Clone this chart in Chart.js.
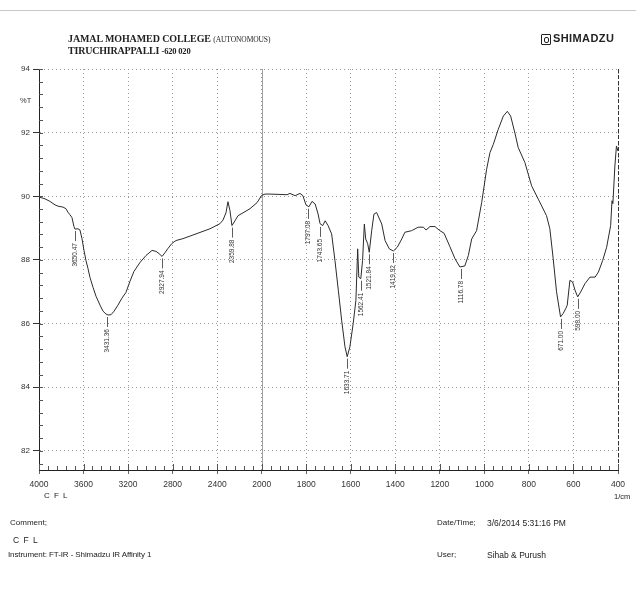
<!DOCTYPE html>
<html>
<head>
<meta charset="utf-8">
<script src="https://cdn.jsdelivr.net/npm/chart.js@4/dist/chart.umd.min.js"></script>
<style>
  html, body { margin:0; padding:0; background:#fff; }
  #wrap { position:relative; width:636px; height:608px; overflow:hidden; background:#fff; }
  canvas { position:absolute; left:0; top:0; }
  .t { position:absolute; white-space:nowrap; color:#222; font-family:"Liberation Sans", Arial, sans-serif; }
  .serif { font-family:"Liberation Serif", "DejaVu Serif", serif; font-weight:bold; }
</style>
</head>
<body>
<div id="wrap">
  <canvas id="c" width="636" height="608"></canvas>
  <div style="position:absolute;left:0;top:10px;width:636px;height:1px;background:#c8c8c8;"></div>
  <div class="t serif" style="left:68px;top:33px;font-size:10px;letter-spacing:-0.1px;">JAMAL MOHAMED COLLEGE <span style="font-size:7.5px;font-weight:normal;">(AUTONOMOUS)</span></div>
  <div class="t serif" style="left:68px;top:45px;font-size:10px;letter-spacing:-0.2px;">TIRUCHIRAPPALLI <span style="font-size:8.5px;">-620 020</span></div>
  <div class="t" style="left:541px;top:34px;width:8px;height:9px;border:1.5px solid #222;border-radius:1px;"></div>
  <div class="t" style="left:544px;top:37px;width:3px;height:4px;border:1px solid #222;border-radius:2px;"></div>
  <div class="t" style="left:553px;top:32px;font-size:11px;font-weight:bold;letter-spacing:0.4px;">SHIMADZU</div>
  <div class="t" style="left:20px;top:96px;font-size:7.5px;color:#333;">%T</div>
  <div class="t" style="left:44px;top:491px;font-size:8px;letter-spacing:1px;">C F L</div>
  <div class="t" style="left:614px;top:492px;font-size:7.5px;">1/cm</div>
  <div class="t" style="left:10px;top:518px;font-size:8px;">Comment;</div>
  <div class="t" style="left:13px;top:535px;font-size:8.5px;letter-spacing:1px;">C F L</div>
  <div class="t" style="left:8px;top:550px;font-size:8px;letter-spacing:-0.1px;">Instrument: FT-IR - Shimadzu IR Affinity 1</div>
  <div class="t" style="left:437px;top:518px;font-size:8px;">Date/Time;</div>
  <div class="t" style="left:487px;top:518px;font-size:8.5px;">3/6/2014 5:31:16 PM</div>
  <div class="t" style="left:437px;top:550px;font-size:8px;">User;</div>
  <div class="t" style="left:487px;top:550px;font-size:8.5px;">Sihab &amp; Purush</div>
</div>
<script>
// ---- data ----
const wavenumbers = [4000,3946,3901,3856,3829,3784,3758,3740,3722,3704,3686,3677,3650,3632,3614,3596,3578,3560,3542,3515,3488,3452,3425,3398,3380,3353,3326,3291,3255,3219,3183,3147,3093,3039,2985,2949,2922,2895,2868,2842,2806,2770,2707,2581,2464,2375,2348,2321,2303,2285,2267,2240,2213,2168,2105,2042,2000,1985,1963,1886,1873,1850,1828,1815,1801,1788,1774,1760,1747,1738,1726,1715,1702,1686,1671,1656,1641,1626,1616,1604,1589,1577,1569,1564,1555,1547,1539,1533,1524,1517,1506,1496,1484,1461,1446,1427,1409,1391,1371,1357,1327,1297,1274,1262,1244,1222,1200,1181,1155,1132,1110,1088,1072,1057,1035,1012,990,975,960,938,915,897,882,863,848,818,788,758,721,706,691,676,658,646,634,628,616,604,593,581,568,548,526,503,488,469,451,433,427,423,414,407,400];
const transmittance = [89.98,89.92,89.84,89.73,89.69,89.66,89.61,89.50,89.42,89.33,89.05,88.97,88.98,88.94,88.67,88.30,87.98,87.73,87.45,87.14,86.86,86.58,86.39,86.30,86.27,86.28,86.39,86.58,86.80,86.98,87.33,87.64,87.92,88.14,88.30,88.27,88.20,88.11,88.23,88.36,88.52,88.61,88.67,88.83,88.98,89.14,89.25,89.48,89.83,89.55,89.08,89.23,89.39,89.48,89.61,89.80,90.03,90.07,90.07,90.05,90.09,90.02,90.09,90.02,89.73,89.67,89.84,89.76,89.45,89.14,89.08,89.23,89.08,88.82,87.98,87.05,86.11,85.27,84.96,85.27,86.01,86.73,88.35,87.46,87.41,87.98,89.13,88.66,88.51,88.24,88.92,89.44,89.49,89.13,88.61,88.35,88.28,88.40,88.66,88.87,88.92,89.03,89.03,88.94,89.05,89.05,88.92,88.84,88.42,88.04,87.78,87.81,88.14,88.66,88.92,89.81,90.85,91.37,91.63,92.10,92.52,92.67,92.52,91.99,91.53,91.06,90.33,89.91,89.39,88.98,88.04,87.00,86.21,86.32,86.48,86.58,87.36,87.31,87.05,86.84,86.99,87.26,87.46,87.46,87.62,87.98,88.40,89.08,89.86,89.77,90.95,91.58,91.42];

const xTickLabels = [4000,3600,3200,2800,2400,2000,1800,1600,1400,1200,1000,800,600,400];
const yTickValues = [82,84,86,88,90,92,94];

const peakText = ['3650.47','3431.36','2927.94','2359.88','1797.08','1743.65','1633.71','1562.41','1521.84','1419.92','1116.78','671.00','598.00'];
const peakWn   = [3677,3389,2895,2267,1792,1736,1616,1553,1517,1409,1104,658,581];
const peakT    = [88.97,86.27,88.11,89.08,89.67,89.10,84.96,87.41,88.24,88.28,87.78,86.21,86.84];

// Shimadzu IR axis: 400 cm-1 per division above 2000, 200 cm-1 per division below
function xPos(wn) { return wn >= 2000 ? (4000 - wn) / 400 : 5 + (2000 - wn) / 200; }

const points = wavenumbers.map((w, i) => ({ x: xPos(w), y: transmittance[i] }));

const decor = {
  id: 'decor',
  beforeDatasetsDraw(chart) {
    const { ctx, chartArea: a, scales: { x, y } } = chart;
    ctx.save();
    ctx.strokeStyle = '#a0a0a0'; ctx.lineWidth = 1;
    const p2000 = Math.round(x.getPixelForValue(5)) + 0.5;
    ctx.beginPath(); ctx.moveTo(p2000, a.top); ctx.lineTo(p2000, a.bottom); ctx.stroke();
    ctx.strokeStyle = '#333'; ctx.setLineDash([4, 2]);
    const pr = Math.round(x.getPixelForValue(13)) + 0.5;
    ctx.beginPath(); ctx.moveTo(pr, a.top); ctx.lineTo(pr, a.bottom); ctx.stroke();
    ctx.setLineDash([]);
    ctx.strokeStyle = '#555';
    for (let v = 81.6; v < 94.01; v += 0.4) {
      const py = Math.round(y.getPixelForValue(v)) + 0.5;
      ctx.beginPath(); ctx.moveTo(a.left, py); ctx.lineTo(a.left + 4, py); ctx.stroke();
    }
    for (let u = 0; u <= 13.001; u += 0.2) {
      const px = Math.round(x.getPixelForValue(u)) + 0.5;
      const major = Math.abs(u - Math.round(u)) < 0.01;
      ctx.beginPath(); ctx.moveTo(px, a.bottom); ctx.lineTo(px, a.bottom - (major ? 6 : 4)); ctx.stroke();
    }
    ctx.restore();
  },
  afterDatasetsDraw(chart) {
    const { ctx, scales: { x, y } } = chart;
    ctx.save();
    ctx.strokeStyle = '#333'; ctx.fillStyle = '#333'; ctx.lineWidth = 0.8;
    ctx.font = '6.5px "Liberation Sans", Arial, sans-serif';
    peakText.forEach((txt, i) => {
      const px = Math.round(x.getPixelForValue(xPos(peakWn[i]))) + 0.5;
      const py = y.getPixelForValue(peakT[i]);
      ctx.beginPath(); ctx.moveTo(px, py + 2); ctx.lineTo(px, py + 12); ctx.stroke();
      ctx.save();
      ctx.translate(px, py + 14);
      ctx.rotate(-Math.PI / 2);
      ctx.textAlign = 'right'; ctx.textBaseline = 'middle';
      ctx.fillText(txt, 0, 0);
      ctx.restore();
    });
    ctx.restore();
  }
};

new Chart(document.getElementById('c'), {
  type: 'line',
  data: { datasets: [{ data: points, borderColor: '#2b2b2b', borderWidth: 1, pointRadius: 0, tension: 0, fill: false }] },
  options: {
    responsive: false, animation: false, devicePixelRatio: 1,
    layout: { padding: { top: 69, right: 18, left: 0, bottom: 0 } },
    plugins: { legend: { display: false }, tooltip: { enabled: false } },
    scales: {
      x: {
        type: 'linear', min: 0, max: 13,
        afterFit(s) { s.height = 138; },
        afterBuildTicks(s) { s.ticks = xTickLabels.map((_, i) => ({ value: i })); },
        ticks: { autoSkip: false, maxRotation: 0, padding: 6, color: '#333',
                 font: { family: '"Liberation Sans", Arial, sans-serif', size: 8.5 },
                 callback: (v) => xTickLabels[v] },
        grid: { color: '#9a9a9a', lineWidth: 1, drawTicks: true, tickLength: 4, tickColor: '#666' },
        border: { display: true, color: '#222', width: 1, dash: [1, 3] }
      },
      y: {
        type: 'linear', min: 81.4, max: 94,
        afterFit(s) { s.width = 39; },
        afterBuildTicks(s) { s.ticks = yTickValues.map(v => ({ value: v })); },
        ticks: { padding: 3, color: '#333',
                 font: { family: '"Liberation Sans", Arial, sans-serif', size: 8 } },
        grid: { color: '#9a9a9a', lineWidth: 1, drawTicks: true, tickLength: 6, tickColor: '#333' },
        border: { display: true, color: '#222', width: 1, dash: [1, 3] }
      }
    }
  },
  plugins: [decor]
});
</script>
</body>
</html>
